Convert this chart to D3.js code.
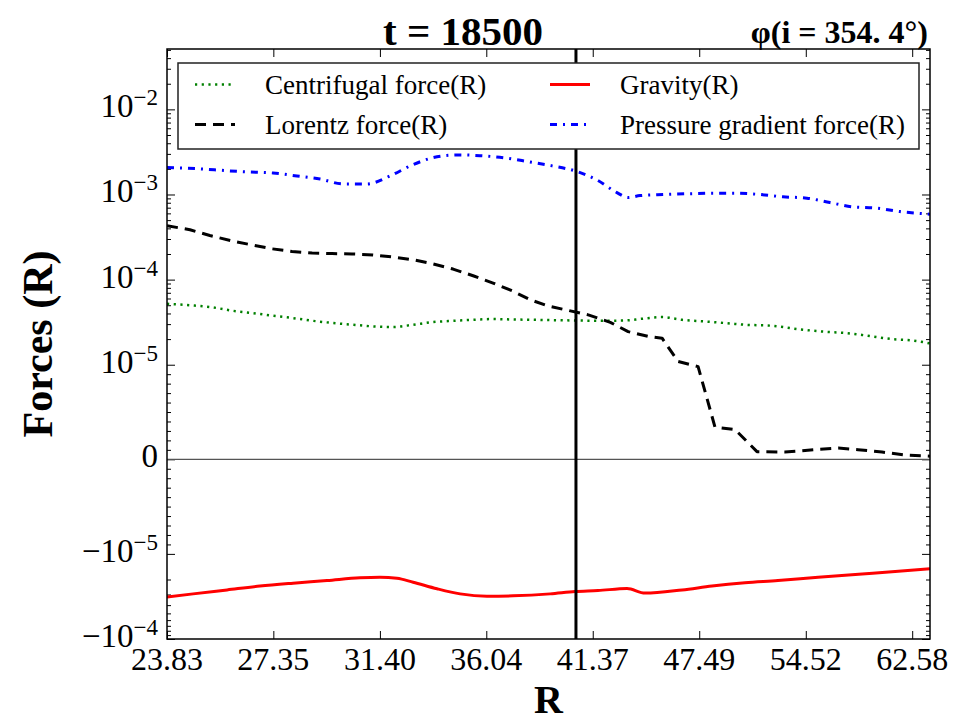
<!DOCTYPE html>
<html>
<head>
<meta charset="utf-8">
<script src="https://cdn.jsdelivr.net/npm/d3@7"></script>
<style>
  body { margin: 0; background: #fff; }
  text { font-family: "Liberation Serif", "DejaVu Serif", serif; fill: #000; }
</style>
</head>
<body>
<div id="chart"></div>
<script>
// ---- data (R, force) ----
var rCentrifugal = [23.83, 24.65, 25.29, 25.96, 26.64, 27.34, 28.06, 28.79, 29.55, 30.33, 31.12, 31.94, 32.78, 33.64, 34.52, 35.43, 36.36, 37.31, 38.99, 40.44, 41.87, 43.14, 44.10, 45.26, 46.45, 47.86, 49.10, 50.39, 52.17, 53.98, 55.91, 57.37, 58.90, 60.99, 62.58, 64.04];
var fCentrifugal = [5.2e-5, 4.97e-5, 4.71e-5, 4.30e-5, 4.04e-5, 3.76e-5, 3.53e-5, 3.28e-5, 3.09e-5, 2.95e-5, 2.82e-5, 2.77e-5, 2.95e-5, 3.17e-5, 3.28e-5, 3.37e-5, 3.44e-5, 3.40e-5, 3.35e-5, 3.31e-5, 3.28e-5, 3.31e-5, 3.47e-5, 3.63e-5, 3.37e-5, 3.22e-5, 3.09e-5, 2.95e-5, 2.87e-5, 2.62e-5, 2.44e-5, 2.36e-5, 2.21e-5, 2.0e-5, 1.93e-5, 1.78e-5];

var rGravity = [23.83, 24.65, 25.76, 26.88, 28.06, 29.32, 30.60, 31.40, 32.10, 32.78, 33.81, 34.84, 36.07, 37.31, 39.15, 40.44, 41.65, 43.25, 44.27, 46.45, 48.28, 50.39, 52.59, 55.40, 58.65, 61.21, 64.04];
var fGravity = [-3.22e-5, -2.95e-5, -2.65e-5, -2.39e-5, -2.21e-5, -2.06e-5, -1.91e-5, -1.88e-5, -1.93e-5, -2.15e-5, -2.57e-5, -2.95e-5, -3.14e-5, -3.11e-5, -2.95e-5, -2.77e-5, -2.70e-5, -2.55e-5, -2.89e-5, -2.65e-5, -2.39e-5, -2.19e-5, -2.06e-5, -1.88e-5, -1.72e-5, -1.61e-5, -1.49e-5];

var rLorentz = [23.83, 24.55, 25.19, 25.92, 26.61, 27.30, 28.02, 28.76, 29.51, 30.29, 31.12, 31.94, 32.78, 33.64, 34.52, 35.43, 36.36, 37.26, 38.15, 39.04, 40.08, 41.13, 42.32, 43.31, 44.45, 45.26, 46.21, 47.42, 48.47, 49.74, 51.18, 53.07, 53.98, 55.40, 56.86, 58.34, 60.18, 62.00, 64.04];
var fLorentz = [4.3e-4, 3.85e-4, 3.3e-4, 2.85e-4, 2.55e-4, 2.3e-4, 2.14e-4, 2.05e-4, 2.02e-4, 2.0e-4, 1.95e-4, 1.84e-4, 1.71e-4, 1.53e-4, 1.33e-4, 1.11e-4, 9.1e-5, 7.4e-5, 5.8e-5, 4.9e-5, 4.35e-5, 3.85e-5, 3.15e-5, 2.45e-5, 2.15e-5, 2.05e-5, 1.09e-5, 9.8e-6, 3.4e-6, 3.15e-6, 8.1e-7, 7.7e-7, 8.7e-7, 1.05e-6, 1.19e-6, 1.02e-6, 7.7e-7, 4.5e-7, 3.3e-7];

var rPressure = [23.83, 24.87, 25.69, 26.47, 27.34, 28.20, 29.06, 29.94, 30.88, 31.81, 32.74, 33.64, 34.70, 35.75, 36.93, 38.05, 39.25, 40.54, 41.60, 42.69, 43.31, 43.98, 45.31, 46.80, 48.28, 49.74, 51.38, 52.93, 54.60, 56.25, 57.96, 59.79, 61.60, 63.63, 64.04];
var fPressure = [2.07e-3, 2.0e-3, 1.91e-3, 1.84e-3, 1.79e-3, 1.65e-3, 1.52e-3, 1.33e-3, 1.33e-3, 1.65e-3, 2.22e-3, 2.71e-3, 2.92e-3, 2.86e-3, 2.69e-3, 2.43e-3, 2.17e-3, 1.86e-3, 1.48e-3, 1.05e-3, 9.2e-4, 9.7e-4, 1.0e-3, 1.02e-3, 1.035e-3, 1.035e-3, 1.0e-3, 9.4e-4, 9.06e-4, 8.04e-4, 7.15e-4, 6.9e-4, 6.3e-4, 5.92e-4, 5.85e-4];

var xTicks = [23.83, 27.35, 31.40, 36.04, 41.37, 47.49, 54.52, 62.58];
var yTicks = [-1e-4, -1e-5, 0, 1e-5, 1e-4, 1e-3, 1e-2];
var xDomain = [23.83, 64.04];
var yDomain = [-1e-4, 0.0512];
var markerR = 40.48;   // vertical line position
var titleText = "t = 18500";
var phaseText = "φ(i = 354. 4°)";

var legendItems = [
    {label: "Centrifugal force(R)", color: "#008000", dash: "2.2,4.5", width: 2.5, col: 0, row: 0},
    {label: "Gravity(R)", color: "#ff0000", dash: null, width: 3, col: 1, row: 0},
    {label: "Lorentz force(R)", color: "#000000", dash: "11,7", width: 3, col: 0, row: 1},
    {label: "Pressure gradient force(R)", color: "#0000ff", dash: "7,6,2,6", width: 3, col: 1, row: 1}
];

// matplotlib-style symlog (linthresh 1e-5, linscale 1) -> "decades"
var linthresh = 1e-5;
var linscaleAdj = 1 / (1 - 1 / 10);
function symlog(v) {
    var a = Math.abs(v);
    if (a <= linthresh) return v / linthresh * linscaleAdj;
    return Math.sign(v) * (linscaleAdj + Math.log10(a / linthresh));
}

var width = 954, height = 724;
var margin = {top: 49, right: 24, bottom: 85, left: 167};
var plotW = width - margin.left - margin.right,
    plotH = height - margin.top - margin.bottom;

var svg = d3.select("#chart")
  .append("svg")
    .attr("width", width)
    .attr("height", height);

var g = svg.append("g")
    .attr("transform", "translate(" + margin.left + "," + margin.top + ")");

var x = d3.scaleLog().domain(xDomain).range([0, plotW]);
var yLin = d3.scaleLinear().domain(yDomain.map(symlog)).range([plotH, 0]);
function y(v) { return yLin(symlog(v)); }

g.append("clipPath").attr("id", "clip")
  .append("rect").attr("width", plotW).attr("height", plotH);

// minor ticks: log decades plus linear part
var minorY = [];
[-5, -4, -3, -2].forEach(function (e) {
    for (var m = 2; m <= 9; m++) {
        var v = m * Math.pow(10, e);
        if (v <= yDomain[1]) minorY.push(v);
        if (e === -5) minorY.push(-v);
    }
});
for (var k = 1; k <= 9; k++) { minorY.push(k * 1e-6); minorY.push(-k * 1e-6); }

function drawYTicks(axisFn, tx, vals, size) {
    var ax = g.append("g")
        .attr("transform", "translate(" + tx + ",0)")
        .call(axisFn(yLin).tickValues(vals.map(symlog)).tickSize(-size).tickFormat(""));
    ax.select(".domain").remove();
    ax.selectAll("line").attr("stroke", "#000");
}
drawYTicks(d3.axisLeft, 0, yTicks, 8);
drawYTicks(d3.axisLeft, 0, minorY, 4);
drawYTicks(d3.axisRight, plotW, yTicks, 8);
drawYTicks(d3.axisRight, plotW, minorY, 4);

// x ticks bottom and top
var xb = g.append("g")
    .attr("transform", "translate(0," + plotH + ")")
    .call(d3.axisBottom(x).tickValues(xTicks).tickSize(-8).tickFormat(""));
xb.select(".domain").remove();
var xt = g.append("g")
    .call(d3.axisTop(x).tickValues(xTicks).tickSize(-8).tickFormat(""));
xt.select(".domain").remove();
g.selectAll(".tick line").attr("stroke", "#000");

// x tick labels
g.selectAll(".xlab")
  .data(xTicks)
  .enter().append("text")
    .attr("x", function (d) { return x(d); })
    .attr("y", plotH + 31)
    .attr("text-anchor", "middle")
    .style("font-size", "32px")
    .text(function (d) { return d.toFixed(2); });

// y tick labels with superscripts
yTicks.forEach(function (v) {
    var t = g.append("text")
        .attr("x", -9)
        .attr("y", y(v) + 8)
        .attr("text-anchor", "end")
        .style("font-size", "33px");
    if (v === 0) { t.text("0"); return; }
    var e = Math.round(Math.log10(Math.abs(v)));
    t.append("tspan").text((v < 0 ? "\u2212" : "") + "10");
    t.append("tspan")
        .attr("dy", -12)
        .style("font-size", "23px")
        .text("\u2212" + Math.abs(e));
});

// zero line
g.append("line")
    .attr("x1", 0).attr("x2", plotW)
    .attr("y1", y(0)).attr("y2", y(0))
    .attr("stroke", "#555")
    .attr("stroke-width", 1.3);

var lines = g.append("g").attr("clip-path", "url(#clip)");

function drawSeries(rs, fs, item, curve) {
    var pts = rs.map(function (r, i) { return [r, fs[i]]; });
    var line = d3.line()
        .x(function (d) { return x(d[0]); })
        .y(function (d) { return y(d[1]); })
        .curve(curve);
    lines.append("path")
        .datum(pts)
        .attr("d", line)
        .attr("fill", "none")
        .attr("stroke", item.color)
        .attr("stroke-width", item.width)
        .attr("stroke-dasharray", item.dash)
        .attr("stroke-linejoin", "round");
}
drawSeries(rGravity, fGravity, legendItems[1], d3.curveMonotoneX);
drawSeries(rPressure, fPressure, legendItems[3], d3.curveMonotoneX);
drawSeries(rCentrifugal, fCentrifugal, legendItems[0], d3.curveMonotoneX);
drawSeries(rLorentz, fLorentz, legendItems[2], d3.curveLinear);

// vertical marker
g.append("line")
    .attr("x1", x(markerR)).attr("x2", x(markerR))
    .attr("y1", 0).attr("y2", plotH)
    .attr("stroke", "#000")
    .attr("stroke-width", 3);

// legend
var leg = svg.append("g");
leg.append("rect")
    .attr("x", 178).attr("y", 63)
    .attr("width", 741).attr("height", 86)
    .attr("fill", "#fff")
    .attr("stroke", "#222")
    .attr("stroke-width", 1.5);
var colX = [195, 550], rowY = [84.5, 124.5];
legendItems.forEach(function (d) {
    var x0 = colX[d.col], yy = rowY[d.row];
    leg.append("line")
        .attr("x1", x0).attr("x2", x0 + 40)
        .attr("y1", yy).attr("y2", yy)
        .attr("stroke", d.color)
        .attr("stroke-width", d.width)
        .attr("stroke-dasharray", d.dash);
    leg.append("text")
        .attr("x", x0 + 70)
        .attr("y", yy + 9)
        .style("font-size", "27px")
        .text(d.label);
});

// frame
g.append("rect")
    .attr("width", plotW).attr("height", plotH)
    .attr("fill", "none")
    .attr("stroke", "#000")
    .attr("stroke-width", 1.5);

// titles and axis labels
svg.append("text")
    .attr("x", 463).attr("y", 45)
    .attr("text-anchor", "middle")
    .style("font-size", "41px").style("font-weight", "bold")
    .text(titleText);
svg.append("text")
    .attr("x", 928).attr("y", 43)
    .attr("text-anchor", "end")
    .style("font-size", "32px").style("font-weight", "bold")
    .text(phaseText);
svg.append("text")
    .attr("x", margin.left + plotW / 2).attr("y", 713)
    .attr("text-anchor", "middle")
    .style("font-size", "40px").style("font-weight", "bold")
    .text("R");
svg.append("text")
    .attr("transform", "translate(52,344) rotate(-90)")
    .attr("text-anchor", "middle")
    .style("font-size", "42px").style("font-weight", "bold")
    .text("Forces (R)");
</script>
</body>
</html>
